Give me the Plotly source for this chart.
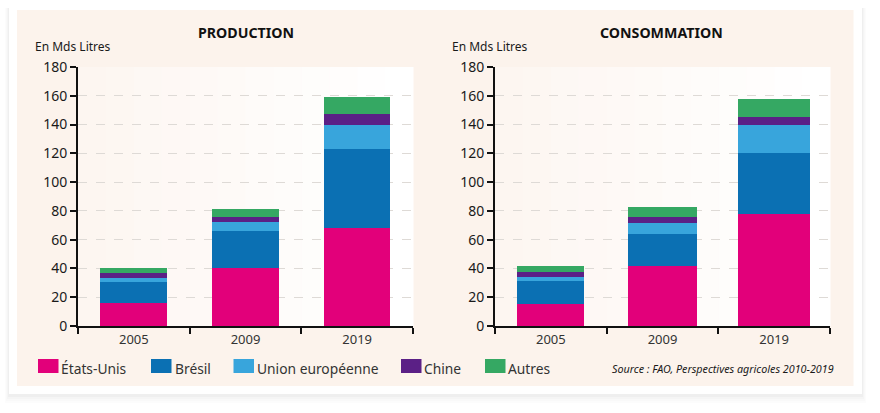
import plotly.graph_objects as go

years = ["2005", "2009", "2019"]
series = ["États-Unis", "Brésil", "Union européenne", "Chine", "Autres"]
colors = ["#e2007a", "#0b70b3", "#38a5dc", "#5b2086", "#35a863"]
prod_etats_unis = [16, 40.5, 67.8]
prod_bresil = [14.3, 25.5, 54.9]
prod_ue = [3.2, 6, 17.3]
prod_chine = [3.5, 3.7, 7]
prod_autres = [3, 5.6, 12]
cons_etats_unis = [15.5, 42, 77.6]
cons_bresil = [15.5, 22, 42.4]
cons_ue = [3, 7.7, 20]
cons_chine = [3.5, 3.8, 5.5]
cons_autres = [4.5, 7.1, 12.5]
y_ticks = list(range(0, 181, 20))

W, H = 880, 413
FONT = "Noto Sans"
INK = "#1a1a1a"
def px(x): return x / W
def py(y): return 1 - y / H

fig = go.Figure()
prod = [prod_etats_unis, prod_bresil, prod_ue, prod_chine, prod_autres]
cons = [cons_etats_unis, cons_bresil, cons_ue, cons_chine, cons_autres]
for name, col, vals in zip(series, colors, prod):
    fig.add_bar(x=years, y=vals, name=name, marker=dict(color=col, line_width=0),
                width=[0.6, 0.6, 0.59], xaxis="x", yaxis="y", showlegend=False)
for name, col, vals in zip(series, colors, cons):
    fig.add_bar(x=years, y=vals, name=name, marker=dict(color=col, line_width=0),
                width=[0.6, 0.61, 0.645], xaxis="x2", yaxis="y2", showlegend=False)

shapes = []
def rect(x0, y0, x1, y1, fill, layer="below", line=None):
    shapes.append(dict(type="rect", xref="paper", yref="paper", x0=px(x0), x1=px(x1),
                       y0=py(y1), y1=py(y0), fillcolor=fill, layer=layer,
                       line=dict(width=0) if line is None else line))
# soft card shadow, card, tinted panel
for i, c in enumerate(["#fcfcfc", "#f9f9f9", "#f5f5f5", "#efefef"]):
    d = 4 - i
    rect(9 - d, 8, 862 + d, 395 + 2 * d, c)
rect(9, 7, 862, 394, "#ffffff")
rect(17, 10, 853.5, 386, "#fcf3ec")
# plot background fades from tint to white
left = (253, 246, 241)
right = (255, 255, 255)
for x0, x1 in [(78, 413), (495, 830)]:
    n = 12
    for i in range(n):
        t = i / (n - 1)
        c = tuple(round(a + (b - a) * t) for a, b in zip(left, right))
        rect(x0 + (x1 - x0) * i / n, 67, x0 + (x1 - x0) * (i + 1) / n + 0.5, 326, "rgb(%d,%d,%d)" % c)

annotations = []
def text(x, y, s, size, xanchor="left", bold=False, italic=False, color=INK):
    annotations.append(dict(xref="paper", yref="paper", x=px(x), y=py(y), text=("<b>%s</b>" % s) if bold else (("<i>%s</i>" % s) if italic else s),
                            showarrow=False, xanchor=xanchor, yanchor="middle",
                            font=dict(family=FONT, size=size, color=color),
                            borderpad=0, borderwidth=0))
text(245.5, 32, "PRODUCTION", 14.2, "center", bold=True, color="#111111")
text(661, 32, "CONSOMMATION", 14.2, "center", bold=True, color="#111111")
text(35, 47, "En Mds Litres", 12)
text(451.5, 47, "En Mds Litres", 12)
text(834, 369, "Source : FAO, Perspectives agricoles 2010-2019", 10.75, "right", italic=True)

sw_x = [38, 151, 233.5, 401, 485]
tx_x = [61, 175, 257, 424, 508]
for name, col, sx, tx in zip(series, colors, sw_x, tx_x):
    rect(sx, 359, sx + 20.5, 373, col)
    text(tx, 368, name, 13.8, color="#333333")

common_y = dict(range=[0, 180], tickvals=y_ticks, ticks="outside", ticklen=6, tickwidth=2,
                tickcolor="#111111", showline=True, linecolor="#111111", linewidth=2,
                showgrid=True, gridcolor="#dedad6", griddash="dash", gridwidth=1,
                zeroline=False, tickfont=dict(family=FONT, size=14, color=INK))
common_x = dict(type="category", categoryorder="array", categoryarray=years, tickson="boundaries",
                ticks="outside", ticklen=6, tickwidth=2, tickcolor="#111111", showline=True,
                linecolor="#111111", linewidth=2, showgrid=False,
                tickfont=dict(family=FONT, size=13, color="#333333"))
ydom = [py(326), py(67)]
fig.update_layout(
    width=W, height=H, margin=dict(l=0, r=0, t=0, b=0, autoexpand=False), autosize=False,
    paper_bgcolor="#ffffff", plot_bgcolor="rgba(0,0,0,0)", barmode="stack",
    xaxis=dict(domain=[px(78), px(413)], anchor="y", **common_x),
    yaxis=dict(domain=ydom, anchor="x", **common_y),
    xaxis2=dict(domain=[px(495), px(830)], anchor="y2", **common_x),
    yaxis2=dict(domain=ydom, anchor="x2", **common_y),
    shapes=shapes, annotations=annotations,
)
fig.write_html("out.html", config={"displayModeBar": False}, post_script="document.body.style.margin='0';")
